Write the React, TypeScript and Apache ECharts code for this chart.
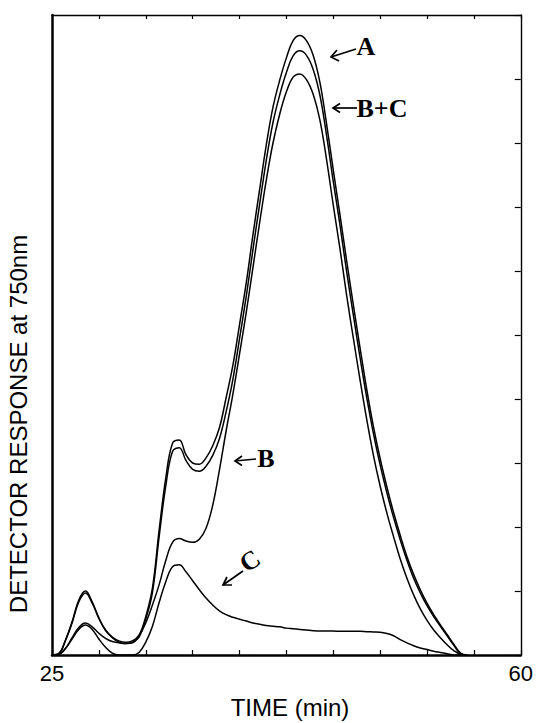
import React, { useEffect, useRef } from "react";
import * as echarts from "echarts";

// time grid (min)
const times = [
  25, 25.5, 26, 26.5, 27, 27.5, 28, 28.5, 29, 29.5,
  30, 30.5, 31, 31.5, 32, 32.5, 33, 33.5, 34, 34.5,
  35, 35.5, 36, 36.5, 37, 37.5, 38, 38.5, 39, 39.5,
  40, 40.5, 41, 41.5, 42, 42.5, 43, 43.5, 44, 44.5,
  45, 45.5, 46, 46.5, 47, 47.5, 48, 48.5, 49, 49.5,
  50, 50.5, 51, 51.5, 52, 52.5, 53, 53.5, 54, 54.5,
  55, 55.5, 56,
];

const seriesA = [
  0, 0.02, 0.23, 0.52, 0.86, 1.0, 0.83, 0.58, 0.39, 0.28,
  0.22, 0.2, 0.22, 0.31, 0.6, 1.05, 1.95, 2.77, 3.31, 3.36,
  3.13, 3.0, 2.98, 3.08, 3.27, 3.55, 4.02, 4.52, 5.16, 5.81,
  6.56, 7.27, 7.97, 8.56, 8.98, 9.33, 9.6, 9.68, 9.6, 9.37,
  8.95, 8.3, 7.58, 6.88, 6.16, 5.47, 4.8, 4.15, 3.57, 3.07,
  2.63, 2.23, 1.87, 1.54, 1.26, 1.02, 0.81, 0.63, 0.47, 0.32,
  0.17, 0.03, 0,
];

const seriesBC = [
  0, 0.02, 0.22, 0.5, 0.83, 0.97, 0.81, 0.57, 0.38, 0.27,
  0.2, 0.18, 0.2, 0.28, 0.56, 0.98, 1.85, 2.65, 3.18, 3.24,
  3.04, 2.9, 2.87, 2.95, 3.12, 3.38, 3.8, 4.3, 4.94, 5.6,
  6.33, 7.04, 7.73, 8.32, 8.75, 9.1, 9.36, 9.44, 9.37, 9.15,
  8.75, 8.12, 7.4, 6.72, 5.99, 5.31, 4.65, 4.02, 3.46, 2.97,
  2.54, 2.15, 1.8, 1.48, 1.2, 0.97, 0.77, 0.6, 0.45, 0.3,
  0.15, 0.02, 0,
];

const seriesB = [
  0, 0.01, 0.1, 0.27, 0.43, 0.5, 0.44, 0.34, 0.26, 0.21,
  0.19, 0.18, 0.19, 0.3, 0.5, 0.78, 1.1, 1.48, 1.76, 1.82,
  1.78, 1.76, 1.81, 1.98, 2.34, 2.89, 3.5, 4.07, 4.7, 5.35,
  6.05, 6.75, 7.42, 8.0, 8.45, 8.8, 9.03, 9.08, 8.99, 8.76,
  8.36, 7.74, 7.03, 6.35, 5.62, 4.95, 4.3, 3.68, 3.12, 2.64,
  2.22, 1.85, 1.5, 1.2, 0.94, 0.72, 0.54, 0.39, 0.27, 0.16,
  0.07, 0.01, 0,
];

const seriesC = [
  0, 0.01, 0.1, 0.25, 0.4, 0.47, 0.4, 0.25, 0.12, 0.03,
  0, 0, 0, 0.04, 0.2, 0.45, 0.82, 1.15, 1.38, 1.41,
  1.3, 1.16, 1.02, 0.89, 0.78, 0.69, 0.63, 0.59, 0.56, 0.53,
  0.5, 0.48, 0.46, 0.45, 0.44, 0.42, 0.41, 0.4, 0.39, 0.38,
  0.375, 0.375, 0.375, 0.37, 0.37, 0.37, 0.37, 0.365, 0.36, 0.355,
  0.335, 0.3, 0.24, 0.19, 0.145, 0.11, 0.085, 0.06, 0.04, 0.02,
  0, 0, 0,
];

const xLabelValues = [25, 60];
const xAxisTitle = "TIME (min)";
const yAxisTitle = "DETECTOR RESPONSE at 750nm";

const pairs = (vals: number[]) => times.map((t, i) => [t, vals[i]]);

const lineSeries = (name: string, vals: number[]) => ({
  name,
  type: "line",
  data: pairs(vals),
  showSymbol: false,
  smooth: 0.4,
  lineStyle: { color: "#000", width: 1.5 },
  itemStyle: { color: "#000" },
  z: 3,
});

const arrow = (tail: number[], head: number[], barbs: number[][]) => [
  {
    type: "line",
    shape: { x1: tail[0], y1: tail[1], x2: head[0], y2: head[1] },
    style: { stroke: "#000", lineWidth: 1.7 },
  },
  {
    type: "polyline",
    shape: { points: [barbs[0], head, barbs[1]] },
    style: { stroke: "#000", lineWidth: 1.7, fill: null },
  },
];

const labelFont = 'bold 26px "Liberation Serif", "Times New Roman", serif';

export default function App() {
  const ref = useRef<HTMLDivElement>(null);
  useEffect(() => {
    if (!ref.current) return;
    const chart = echarts.init(ref.current, undefined, { renderer: "svg" });
    const axisBase = {
      type: "value",
      splitLine: { show: false },
    };
    chart.setOption({
      animation: false,
      backgroundColor: "#fff",
      grid: { left: 52, right: 9, top: 15, bottom: 68 },
      xAxis: [
        {
          ...axisBase,
          min: 25,
          max: 60,
          interval: 3.5,
          position: "bottom",
          axisLine: { show: true, onZero: false, lineStyle: { color: "#000", width: 2.5 } },
          axisTick: { show: true, inside: true, length: 5, lineStyle: { color: "#000", width: 1.2 } },
          axisLabel: {
            show: true,
            showMinLabel: true,
            showMaxLabel: true,
            color: "#000",
            fontSize: 22,
            fontFamily: '"Liberation Sans", Arial, sans-serif',
            margin: 7,
            formatter: (v: number) => {
              const hit = xLabelValues.find((x) => Math.abs(x - v) < 0.01);
              return hit !== undefined ? String(hit) : "";
            },
          },
        },
        {
          ...axisBase,
          min: 25,
          max: 60,
          interval: 3.5,
          position: "top",
          axisLine: { show: true, onZero: false, lineStyle: { color: "#000", width: 1.4 } },
          axisTick: { show: true, inside: true, length: 4, lineStyle: { color: "#000", width: 1.2 } },
          axisLabel: { show: false },
        },
      ],
      yAxis: [
        {
          ...axisBase,
          min: 0,
          max: 10,
          interval: 1,
          position: "left",
          axisLine: { show: true, onZero: false, lineStyle: { color: "#000", width: 2.5 } },
          axisTick: { show: false },
          axisLabel: { show: false },
        },
        {
          ...axisBase,
          min: 0,
          max: 10,
          interval: 1,
          position: "right",
          axisLine: { show: true, onZero: false, lineStyle: { color: "#000", width: 1.4 } },
          axisTick: { show: true, inside: true, length: 6, lineStyle: { color: "#000", width: 1.2 } },
          axisLabel: { show: false },
        },
      ],
      series: [
        lineSeries("A", seriesA),
        lineSeries("B+C", seriesBC),
        lineSeries("B", seriesB),
        lineSeries("C", seriesC),
      ],
      graphic: [
        {
          type: "text",
          x: 18,
          y: 424,
          rotation: Math.PI / 2,
          style: {
            text: yAxisTitle,
            font: '24px "Liberation Sans", Arial, sans-serif',
            fill: "#000",
            textAlign: "center",
            textVerticalAlign: "middle",
          },
        },
        {
          type: "text",
          x: 290,
          y: 707,
          style: {
            text: xAxisTitle,
            font: '24px "Liberation Sans", Arial, sans-serif',
            fill: "#000",
            textAlign: "center",
            textVerticalAlign: "middle",
          },
        },
        {
          type: "text",
          x: 366,
          y: 46,
          style: { text: "A", font: labelFont, fill: "#000", textAlign: "center", textVerticalAlign: "middle" },
        },
        ...arrow([356, 49], [331, 57], [[337, 50], [339, 61]]),
        {
          type: "text",
          x: 382,
          y: 108,
          style: { text: "B+C", font: labelFont, fill: "#000", textAlign: "center", textVerticalAlign: "middle" },
        },
        ...arrow([357, 108], [333, 108], [[340, 103.5], [340, 112.5]]),
        {
          type: "text",
          x: 266,
          y: 458,
          style: { text: "B", font: labelFont, fill: "#000", textAlign: "center", textVerticalAlign: "middle" },
        },
        ...arrow([256, 459], [235, 461], [[242, 456], [242, 465.5]]),
        {
          type: "text",
          x: 250,
          y: 561,
          rotation: 0.6,
          style: { text: "C", font: labelFont, fill: "#000", textAlign: "center", textVerticalAlign: "middle" },
        },
        ...arrow([243, 571], [223, 585], [[232, 585], [227, 577]]),
      ],
    });
    return () => chart.dispose();
  }, []);
  return (
    <div
      ref={ref}
      style={{ position: "fixed", left: 0, top: 0, width: 536, height: 723, background: "#fff" }}
    />
  );
}
